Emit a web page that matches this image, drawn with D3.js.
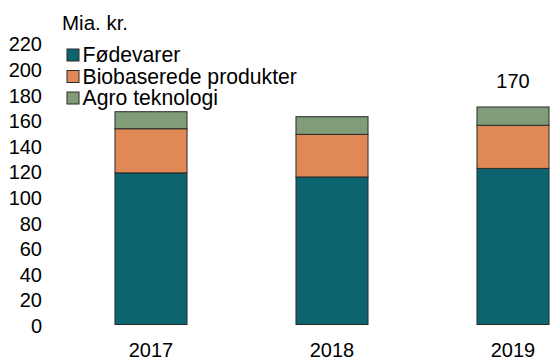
<!DOCTYPE html>
<html>
<head>
<meta charset="utf-8">
<script src="https://cdn.jsdelivr.net/npm/d3@7"></script>
<style>
  html, body { margin: 0; padding: 0; background: #fff; }
  svg { display: block; }
  text { font-family: "Liberation Sans", Arial, sans-serif; fill: #000; }
</style>
</head>
<body>
<svg id="chart" width="550" height="361"></svg>
<script>
// Omsætning fordelt på område, mia. kr.
const years = ["2017", "2018", "2019"];
const seriesNames = ["Fødevarer", "Biobaserede produkter", "Agro teknologi"];
const foedevarer = [118.5, 115.3, 122.0];
const biobaserede = [34.5, 33.3, 33.7];
const agroTeknologi = [13.3, 13.8, 14.3];
const totalLabels = [null, null, 170];
const yTicks = [0, 20, 40, 60, 80, 100, 120, 140, 160, 180, 200, 220];
const unitLabel = "Mia. kr.";

const colors = ["#0b646e", "#e08957", "#809c78"];

const rows = years.map((yr, i) => ({
  year: yr,
  "Fødevarer": foedevarer[i],
  "Biobaserede produkter": biobaserede[i],
  "Agro teknologi": agroTeknologi[i],
  label: totalLabels[i]
}));

const svg = d3.select("#chart");

const x = d3.scaleBand()
  .domain(years)
  .range([60.5, 603.5])
  .paddingInner(0.602)
  .paddingOuter(0.301);

const y = d3.scaleLinear()
  .domain([0, 220])
  .range([324.5, 43]);

const stack = d3.stack().keys(seriesNames);
const layers = stack(rows);

// stacked bars
svg.append("g")
  .selectAll("g")
  .data(layers)
  .join("g")
  .attr("fill", (d, i) => colors[i])
  .selectAll("rect")
  .data(d => d)
  .join("rect")
  .attr("x", d => x(d.data.year))
  .attr("width", x.bandwidth())
  .attr("y", d => y(d[1]))
  .attr("height", d => y(d[0]) - y(d[1]))
  .attr("stroke", "#2a2a2a")
  .attr("stroke-width", 1);

// y axis (labels only)
const yAxis = d3.axisLeft(y).tickValues(yTicks).tickSize(0).tickPadding(0);
const yg = svg.append("g").attr("transform", "translate(42,1.5)").call(yAxis);
yg.select(".domain").remove();
yg.selectAll("text")
  .attr("font-size", "20px")
  .attr("font-family", "'Liberation Sans', Arial, sans-serif")
  .attr("fill", "#000");

// x axis (labels only)
const xAxis = d3.axisBottom(x).tickSize(0).tickPadding(0);
const xg = svg.append("g").attr("transform", "translate(0,343)").call(xAxis);
xg.select(".domain").remove();
xg.selectAll("text")
  .attr("font-size", "20px")
  .attr("font-family", "'Liberation Sans', Arial, sans-serif")
  .attr("fill", "#000");

// unit label
svg.append("text")
  .attr("x", 62)
  .attr("y", 30)
  .attr("font-size", "20.5px")
  .text(unitLabel);

// total labels
svg.append("g")
  .selectAll("text")
  .data(rows.filter(d => d.label !== null))
  .join("text")
  .attr("x", d => x(d.year) + x.bandwidth() / 2)
  .attr("y", d => y(d.label) - 19)
  .attr("text-anchor", "middle")
  .attr("font-size", "20px")
  .text(d => d.label);

// legend
const legend = svg.append("g")
  .selectAll("g")
  .data(seriesNames)
  .join("g")
  .attr("transform", (d, i) => `translate(67,${49 + i * 21.5})`);
legend.append("rect")
  .attr("width", 12)
  .attr("height", 12)
  .attr("fill", (d, i) => colors[i])
  .attr("stroke", "#2a2a2a")
  .attr("stroke-width", 1);
legend.append("text")
  .attr("x", 15.5)
  .attr("y", 13)
  .attr("font-size", "21.2px")
  .text(d => d);
</script>
</body>
</html>
